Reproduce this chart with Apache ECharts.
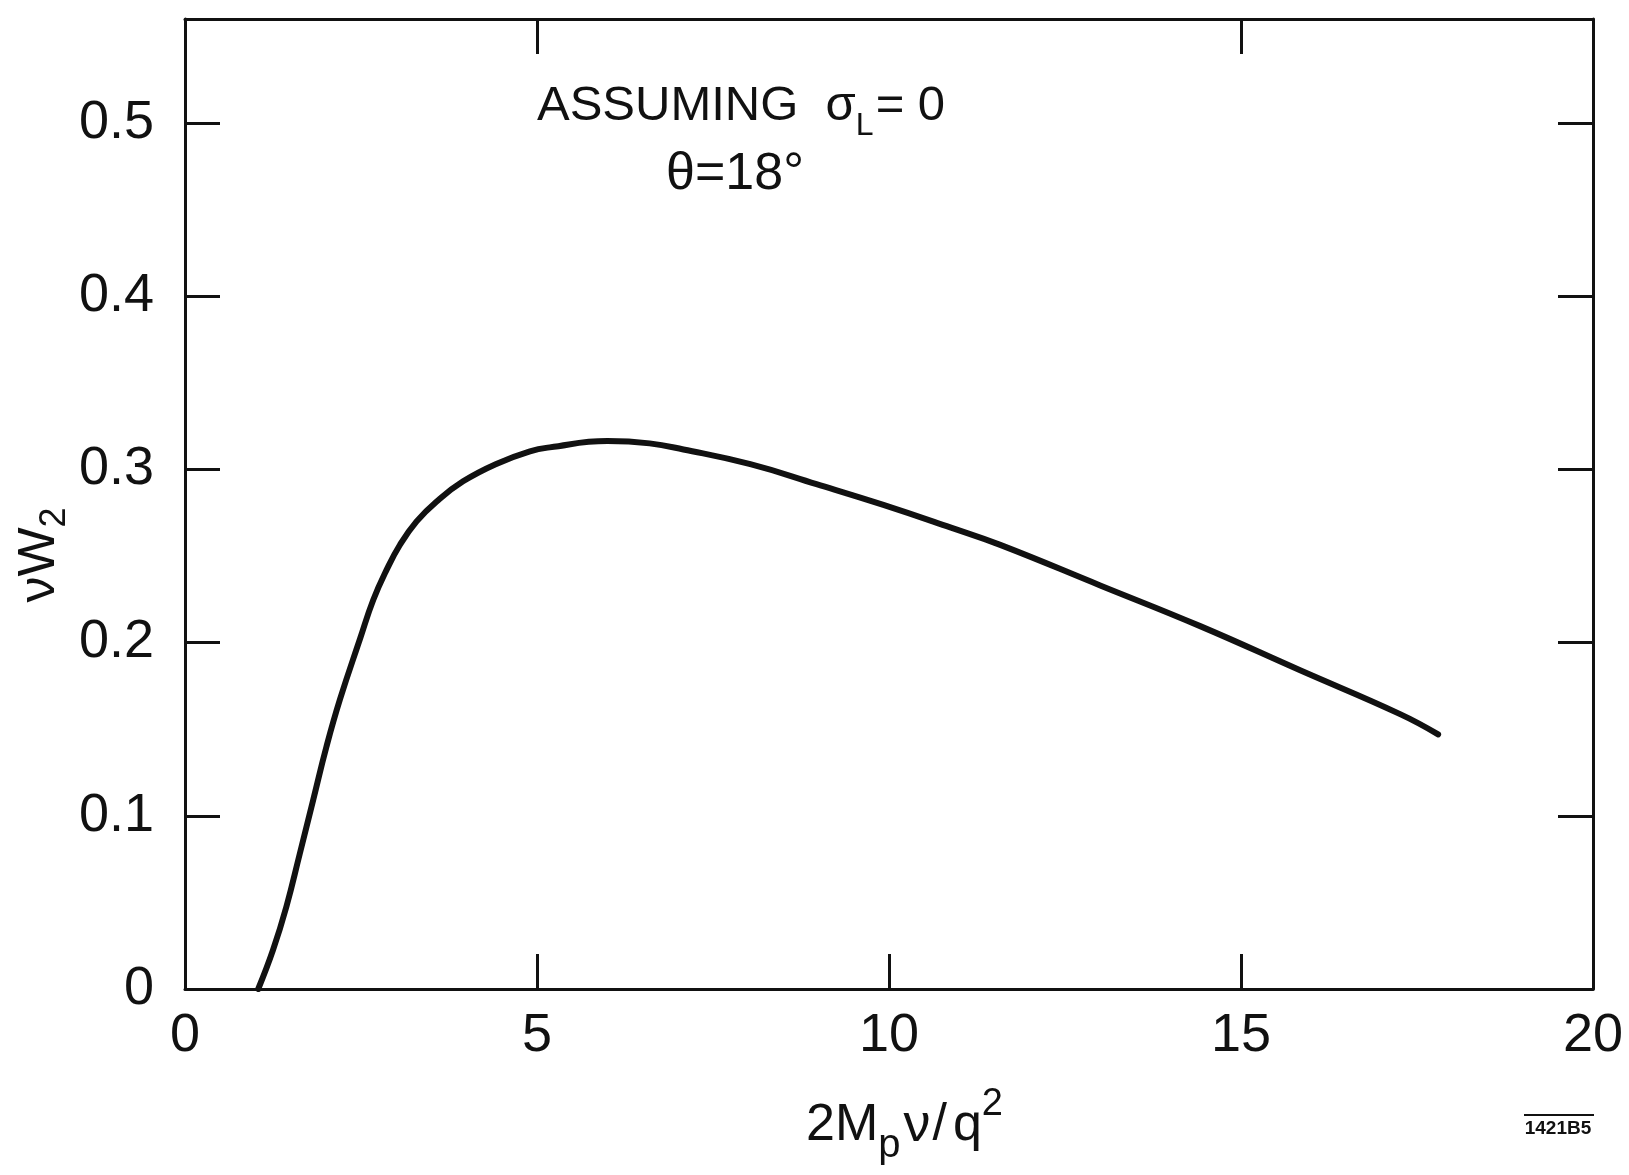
<!DOCTYPE html>
<html>
<head>
<meta charset="utf-8">
<script src="https://cdn.jsdelivr.net/npm/echarts@6/dist/echarts.min.js"></script>
<style>
html,body{margin:0;padding:0;background:#fff;}
#c{width:1629px;height:1175px;}
</style>
</head>
<body>
<div id="c"></div>
<script>
// ---- data ----
const xValues = [1.04, 1.25, 1.44, 1.63, 1.82, 2.01, 2.20, 2.49, 2.675, 2.865, 3.054, 3.29, 3.575, 3.95, 4.43, 4.90, 5.18, 6.00, 6.60, 7.08, 8.03, 8.97, 9.92, 10.87, 11.58, 13.00, 14.42, 15.84, 17.26, 17.80];
const nuW2    = [0.000, 0.0225, 0.0475, 0.078, 0.109, 0.140, 0.167, 0.2026, 0.2247, 0.2421, 0.2565, 0.270, 0.2815, 0.2931, 0.3033, 0.3104, 0.3127, 0.3163, 0.315, 0.3115, 0.303, 0.2915, 0.2795, 0.2665, 0.2564, 0.233, 0.2095, 0.184, 0.1587, 0.147];
const xTicks = [0, 5, 10, 15, 20];
const xTopTicks = [5, 15];
const yTicks = [0, 0.1, 0.2, 0.3, 0.4, 0.5];
const yRightTicks = [0.1, 0.2, 0.3, 0.4, 0.5];
const titleLine1 = ['ASSUMING  σ', 'L', '= 0'];
const titleLine2 = 'θ=18°';
const xName = ['2M', 'p', 'ν', '/', 'q', '2'];
const yName = ['νW', '2'];
const figId = '1421B5';

const FONT = 'Liberation Sans, Arial, sans-serif';
const ink = '#111';

const chart = echarts.init(document.getElementById('c'), null, {renderer: 'canvas'});

const lineData = xValues.map((x, i) => [x, nuW2[i]]);

const option = {
  backgroundColor: '#ffffff',
  animation: false,
  grid: {left: 185, right: 36, top: 19, bottom: 186, containLabel: false, outerBoundsMode: 'none', show: false},
  xAxis: [
    {
      type: 'value', position: 'bottom', min: 0, max: 20, interval: 5,
      axisLine: {show: true, onZero: false, lineStyle: {color: ink, width: 3}},
      axisTick: {show: true, inside: true, length: 35, lineStyle: {color: ink, width: 3}, customValues: xTicks.slice(1, -1)},
      axisLabel: {show: true, margin: 20, color: ink, fontSize: 54, fontFamily: FONT, customValues: xTicks,
                  formatter: v => String(v)},
      splitLine: {show: false}
    },
    {
      type: 'value', position: 'top', min: 0, max: 20, interval: 5,
      axisLine: {show: true, onZero: false, lineStyle: {color: ink, width: 3}},
      axisTick: {show: true, inside: true, length: 35, lineStyle: {color: ink, width: 3}, customValues: xTopTicks},
      axisLabel: {show: false},
      splitLine: {show: false}
    }
  ],
  yAxis: [
    {
      type: 'value', position: 'left', min: 0, max: 0.56, interval: 0.1,
      axisLine: {show: true, onZero: false, lineStyle: {color: ink, width: 3}},
      axisTick: {show: true, inside: true, length: 35, lineStyle: {color: ink, width: 3}, customValues: yTicks.slice(1)},
      axisLabel: {show: true, margin: 31, color: ink, fontSize: 54, fontFamily: FONT, customValues: yTicks,
                  formatter: v => (v === 0 ? '0' : v.toFixed(1))},
      splitLine: {show: false}
    },
    {
      type: 'value', position: 'right', min: 0, max: 0.56, interval: 0.1,
      axisLine: {show: true, onZero: false, lineStyle: {color: ink, width: 3}},
      axisTick: {show: true, inside: true, length: 35, lineStyle: {color: ink, width: 3}, customValues: yRightTicks},
      axisLabel: {show: false},
      splitLine: {show: false}
    }
  ],
  series: [{
    type: 'line',
    xAxisIndex: 0, yAxisIndex: 0,
    data: lineData,
    smooth: 0.45,
    showSymbol: false,
    symbol: 'none',
    lineStyle: {color: ink, width: 6, cap: 'round', join: 'round'},
    z: 5
  }],
  graphic: [
    {
      type: 'text', left: 537, top: 82,
      style: {
        text: '{a|' + titleLine1[0] + '}{b|' + titleLine1[1] + '}{a|' + titleLine1[2] + '}',
        fill: ink,
        rich: {
          a: {fontSize: 49, fontFamily: FONT, fill: ink, lineHeight: 60, verticalAlign: 'top'},
          b: {fontSize: 32, fontFamily: FONT, fill: ink, lineHeight: 60, verticalAlign: 'bottom', padding: [0, 2, 0, 0]}
        }
      }
    },
    {
      type: 'text', left: 666, top: 149,
      style: {text: titleLine2, fontSize: 52, fontFamily: FONT, fill: ink}
    },
    {
      type: 'text', left: 806, top: 1086,
      style: {
        text: '{n|' + xName[0] + '}{s|' + xName[1] + '}{v|' + xName[2] + '}{n|' + xName[3] + '}{q|' + xName[4] + '}{u|' + xName[5] + '}',
        fill: ink,
        rich: {
          n: {fontSize: 52, fontFamily: FONT, fill: ink, lineHeight: 80, verticalAlign: 'middle'},
          v: {fontSize: 54, fontFamily: FONT, fill: ink, lineHeight: 80, verticalAlign: 'middle', padding: [0, 2, 0, 3]},
          q: {fontSize: 52, fontFamily: FONT, fill: ink, lineHeight: 80, verticalAlign: 'middle', padding: [0, 0, 0, 6]},
          s: {fontSize: 40, fontFamily: FONT, fill: ink, lineHeight: 80, verticalAlign: 'bottom'},
          u: {fontSize: 38, fontFamily: FONT, fill: ink, lineHeight: 80, verticalAlign: 'top'}
        }
      }
    },
    {
      type: 'text', x: 40, y: 555, rotation: Math.PI / 2,
      style: {
        text: '{n|' + yName[0] + '}{s|' + yName[1] + '}',
        align: 'center', verticalAlign: 'middle',
        fill: ink,
        rich: {
          n: {fontSize: 52, fontFamily: FONT, fill: ink, lineHeight: 66, verticalAlign: 'middle'},
          s: {fontSize: 36, fontFamily: FONT, fill: ink, lineHeight: 66, verticalAlign: 'bottom'}
        }
      }
    },
    {
      type: 'text', x: 1558, y: 1129,
      style: {text: figId, align: 'center', verticalAlign: 'middle', fontSize: 19, fontWeight: 'bold', fontFamily: FONT, fill: ink}
    },
    {
      type: 'line', shape: {x1: 1524, y1: 1115, x2: 1594, y2: 1115},
      style: {stroke: ink, lineWidth: 2}
    }
  ]
};

chart.setOption(option);
</script>
</body>
</html>
